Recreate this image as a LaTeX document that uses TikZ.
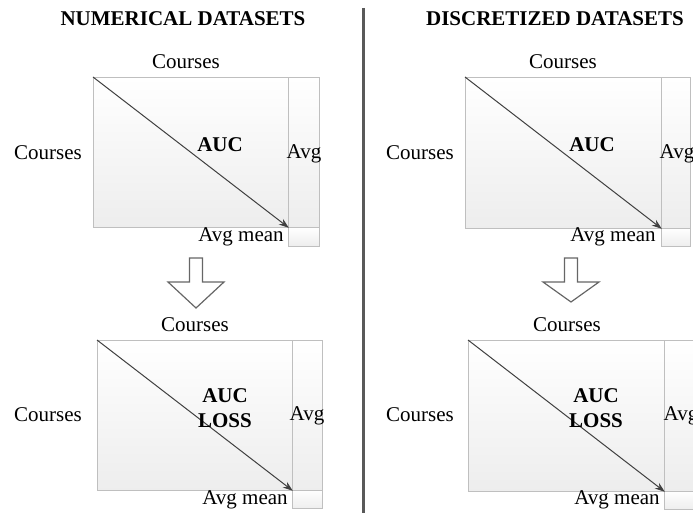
\documentclass[tikz,border=0pt]{standalone}
\usepackage{fontspec}
\setmainfont{Liberation Serif}
\usetikzlibrary{arrows.meta}
\begin{document}
\begin{tikzpicture}[x=1pt,y=-1pt,
  cell/.style={draw=black!25, line width=0.8pt, top color=white, bottom color=black!7, inner sep=0pt, anchor=north west},
  lbl/.style={font=\fontsize{21}{24}\selectfont, inner sep=0pt},
  blbl/.style={font=\fontsize{21}{25}\selectfont\bfseries, inner sep=0pt, align=center},
  ttl/.style={font=\fontsize{21}{24}\selectfont\bfseries, inner sep=0pt},
  diag/.style={draw=black!75, line width=1pt, -{Stealth[length=10pt,width=7pt]}},
  blockarrow/.style={draw=black!60, fill=white, line width=1.2pt, line join=miter},
  divider/.style={draw=black!65, line width=3pt}]
\useasboundingbox (0,0) rectangle (693,513);

% titles and divider
\node[ttl] (t1) at (183,19) {NUMERICAL DATASETS};
\node[ttl] (t2) at (555,19) {DISCRETIZED DATASETS};
\coordinate (dtop) at (363,8);
\coordinate (dbot) at (363,513);
\draw[divider] (dtop) -- (dbot);

% ---- top left
\node[cell, minimum width=195pt, minimum height=150pt] (m1) at (93,77) {};
\node[cell, minimum width=31pt, minimum height=150pt] (a1) at (288,77) {};
\node[cell, minimum width=31pt, minimum height=19pt] (c1) at (288,227) {};
\draw[diag] (m1.north west) -- (m1.south east);
\node[lbl] (h1) at (186,62) {Courses};
\node[lbl] (v1) at (48,153) {Courses};
\node[blbl] (x1) at (220,145) {AUC};
\node[lbl] (g1) at (304,154) {Avg};
\node[lbl] (n1) at (241,237) {Avg mean};

% ---- bottom left
\node[cell, minimum width=195pt, minimum height=150pt] (m2) at (97,340) {};
\node[cell, minimum width=30pt, minimum height=150pt] (a2) at (292,340) {};
\node[cell, minimum width=30pt, minimum height=18pt] (c2) at (292,490) {};
\draw[diag] (m2.north west) -- (m2.south east);
\node[lbl] (h2) at (195,325) {Courses};
\node[lbl] (v2) at (48,415) {Courses};
\node[blbl] (x2) at (225,408) {AUC\\LOSS};
\node[lbl] (g2) at (307,416) {Avg};
\node[lbl] (n2) at (245,500) {Avg mean};

% ---- top right
\node[cell, minimum width=196pt, minimum height=151pt] (m3) at (465,77) {};
\node[cell, minimum width=29pt, minimum height=151pt] (a3) at (661,77) {};
\node[cell, minimum width=29pt, minimum height=18pt] (c3) at (661,228) {};
\draw[diag] (m3.north west) -- (m3.south east);
\node[lbl] (h3) at (563,62) {Courses};
\node[lbl] (v3) at (420,153) {Courses};
\node[blbl] (x3) at (592,145) {AUC};
\node[lbl] (g3) at (677,154) {Avg};
\node[lbl] (n3) at (613,237) {Avg mean};

% ---- bottom right
\node[cell, minimum width=196pt, minimum height=151pt] (m4) at (468,340) {};
\node[cell, minimum width=32pt, minimum height=151pt] (a4) at (664,340) {};
\node[cell, minimum width=32pt, minimum height=18pt] (c4) at (664,491) {};
\draw[diag] (m4.north west) -- (m4.south east);
\node[lbl] (h4) at (567,325) {Courses};
\node[lbl] (v4) at (420,415) {Courses};
\node[blbl] (x4) at (596,408) {AUC\\LOSS};
\node[lbl] (g4) at (681,416) {Avg};
\node[lbl] (n4) at (617,500) {Avg mean};

% block arrows
\foreach \cx/\tip in {196/308, 571/302} {
  \draw[blockarrow] (\cx-6.5,258) -- (\cx+6.5,258) -- (\cx+6.5,282) -- (\cx+28,282)
    -- (\cx,\tip) -- (\cx-28,282) -- (\cx-6.5,282) -- cycle;
}
\end{tikzpicture}
\end{document}
